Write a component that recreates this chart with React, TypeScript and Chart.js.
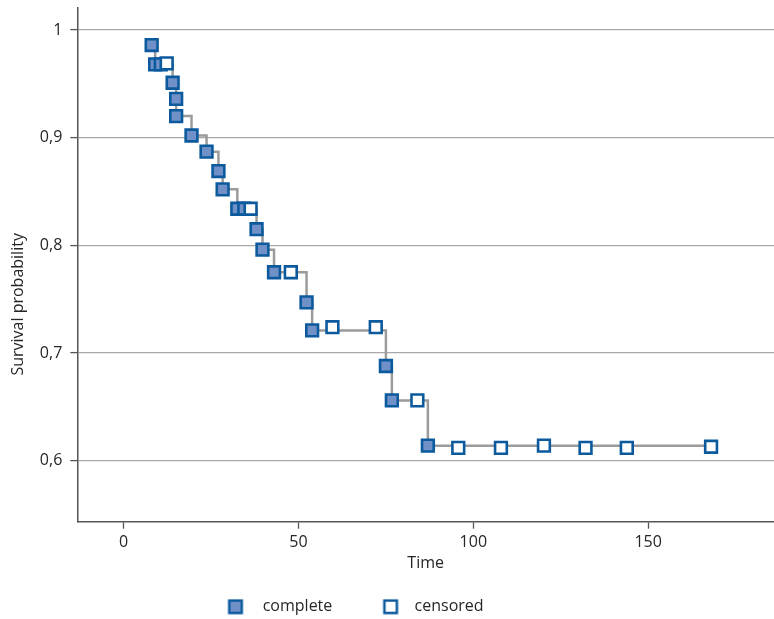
import React, { useEffect, useRef } from 'react';
import { Chart, registerables } from 'chart.js';

Chart.register(...registerables);

// ---- data ----
const completeTimes = [8.0, 9.0, 10.6, 14.0, 15.0, 15.0, 19.4, 23.7, 27.1, 28.3, 32.5, 34.5, 38.0, 39.7, 43.0, 52.3, 53.9, 75.0, 76.7, 87.0];
const completeSurv = [0.986, 0.968, 0.968, 0.951, 0.936, 0.920, 0.902, 0.887, 0.869, 0.852, 0.834, 0.834, 0.815, 0.796, 0.775, 0.747, 0.721, 0.688, 0.656, 0.614];
const censoredTimes = [12.3, 36.3, 47.8, 59.7, 72.1, 84.0, 95.7, 107.9, 120.2, 132.1, 143.9, 168.0];
const censoredSurv = [0.969, 0.834, 0.775, 0.724, 0.724, 0.656, 0.612, 0.612, 0.614, 0.612, 0.612, 0.613];

const seriesNames = ['complete', 'censored'];
const xTickValues = [0, 50, 100, 150];
const xTickLabels = ['0', '50', '100', '150'];
const yTickValues = [0.6, 0.7, 0.8, 0.9, 1];
const yTickLabels = ['0,6', '0,7', '0,8', '0,9', '1'];
const xTitle = 'Time';
const yTitle = 'Survival probability';

const X_MIN = -13.27;
const X_MAX = 186;
const Y_MIN = 0.5434;
const Y_MAX = 1.0204;

// ---- style ----
const FILL = '#7090c8';
const EDGE = '#0b5a9e';
const LINE = '#9b9b9b';
const GRID = '#a9a9a9';
const AXIS = '#555555';
const TEXT = '#262626';
const FONT = "'Open Sans', sans-serif";
const FS = 16;
const LEG_BOX_W = 74.3;
const LEG_LEFT = 180.4;
const LEG_TEXT_Y = 606.7;
const PLOT_BOTTOM = 521.7;
const CANVAS_H = 619;

function makeLegendIcon(fill: string, off: number) {
  const c = document.createElement('canvas');
  c.width = 80;
  c.height = 20;
  const ctx = c.getContext('2d')!;
  const side = 12.5;
  const cx = 40 + off;
  const cy = 10;
  ctx.fillStyle = fill;
  ctx.fillRect(cx - side / 2, cy - side / 2, side, side);
  ctx.strokeStyle = EDGE;
  ctx.lineWidth = 2.5;
  ctx.strokeRect(cx - side / 2, cy - side / 2, side, side);
  return c;
}

function buildStepLine() {
  const events = [
    ...completeTimes.map((t, i) => ({ t, s: completeSurv[i], c: true })),
    ...censoredTimes.map((t) => ({ t, s: NaN, c: false })),
  ].sort((a, b) => a.t - b.t);
  let level = 1;
  const pts: { x: number; y: number }[] = [];
  for (const e of events) {
    if (e.c) level = e.s;
    pts.push({ x: e.t, y: level });
  }
  return pts;
}

const legendPlace = {
  id: 'legendPlace',
  afterLayout(chart: any) {
    const l = chart.legend;
    if (!l) return;
    const dx = LEG_LEFT - l.left;
    l.left += dx;
    l.right += dx;
    const top = LEG_TEXT_Y - FS / 2;
    const h = l.height;
    l.top = top;
    l.bottom = top + h;
  },
};

export default function App() {
  const ref = useRef<HTMLCanvasElement | null>(null);

  useEffect(() => {
    if (!ref.current) return;
    const iconComplete = makeLegendIcon(FILL, 17.95);
    const iconCensored = makeLegendIcon('#ffffff', 21.15);
    const font = { family: FONT, size: FS };
    const legendHeight = FS + 10;
    const xAxisHeight = CANVAS_H - PLOT_BOTTOM - legendHeight;

    const chart = new Chart(ref.current, {
      type: 'scatter',
      data: {
        datasets: [
          {
            label: seriesNames[1],
            data: censoredTimes.map((t, i) => ({ x: t, y: censoredSurv[i] })),
            pointStyle: 'rect',
            pointRadius: 8.3,
            pointHoverRadius: 8.3,
            pointBorderWidth: 2.6,
            pointBackgroundColor: '#ffffff',
            pointBorderColor: EDGE,
          },
          {
            label: seriesNames[0],
            data: completeTimes.map((t, i) => ({ x: t, y: completeSurv[i] })),
            pointStyle: 'rect',
            pointRadius: 8.3,
            pointHoverRadius: 8.3,
            pointBorderWidth: 2.6,
            pointBackgroundColor: FILL,
            pointBorderColor: EDGE,
          },
          {
            label: 'km',
            data: buildStepLine(),
            showLine: true,
            stepped: 'before',
            borderColor: LINE,
            borderWidth: 2.5,
            pointRadius: 0,
            pointHoverRadius: 0,
            fill: false,
          },
        ],
      } as any,
      options: {
        animation: false,
        responsive: false,
        events: [],
        layout: { autoPadding: false, padding: { top: 8, left: 0, right: 0, bottom: 0 } },
        plugins: {
          tooltip: { enabled: false },
          legend: {
            position: 'bottom',
            align: 'start',
            labels: {
              usePointStyle: true,
              pointStyleWidth: LEG_BOX_W,
              padding: 0,
              color: TEXT,
              font,
              generateLabels: () => [
                { text: seriesNames[0], pointStyle: iconComplete, fillStyle: FILL, strokeStyle: EDGE, lineWidth: 0, hidden: false, datasetIndex: 1, fontColor: TEXT },
                { text: seriesNames[1], pointStyle: iconCensored, fillStyle: '#fff', strokeStyle: EDGE, lineWidth: 0, hidden: false, datasetIndex: 0, fontColor: TEXT },
              ],
            },
          },
        },
        scales: {
          x: {
            type: 'linear',
            min: X_MIN,
            max: X_MAX,
            afterBuildTicks: (s: any) => {
              s.ticks = xTickValues.map((v) => ({ value: v }));
            },
            afterFit: (s: any) => {
              s.height = xAxisHeight;
              s.paddingLeft = 0;
              s.paddingRight = 0;
            },
            ticks: {
              callback: (_v: any, i: number) => xTickLabels[i],
              color: TEXT,
              font,
              padding: 4,
              maxRotation: 0,
              autoSkip: false,
            },
            grid: { drawOnChartArea: false, drawTicks: true, tickLength: 7, tickColor: AXIS, tickWidth: 1.3 },
            border: { color: AXIS, width: 1.5 },
            title: { display: true, text: xTitle, color: TEXT, font, padding: { top: 0, bottom: 20.4 } },
          },
          y: {
            type: 'linear',
            min: Y_MIN,
            max: Y_MAX,
            afterBuildTicks: (s: any) => {
              s.ticks = yTickValues.map((v) => ({ value: v }));
            },
            afterFit: (s: any) => {
              s.width = 77.3;
              s.paddingTop = 0;
              s.paddingBottom = 0;
            },
            ticks: {
              callback: (_v: any, i: number) => yTickLabels[i],
              color: TEXT,
              font,
              padding: 8,
              autoSkip: false,
            },
            grid: { color: GRID, lineWidth: 1.2, drawTicks: true, tickLength: 7, tickColor: AXIS, tickWidth: 1.3 },
            border: { color: AXIS, width: 1.5 },
            title: {
              display: true,
              text: yTitle + '                   ',
              color: TEXT,
              font,
              padding: { top: 8.4, bottom: 0 },
            },
          },
        },
      } as any,
      plugins: [legendPlace],
    });
    return () => chart.destroy();
  }, []);

  return (
    <div style={{ position: 'absolute', left: 0, top: 0, width: 774, height: 619, background: '#fff' }}>
      <canvas ref={ref} width={774} height={619} style={{ display: 'block' }} />
    </div>
  );
}
